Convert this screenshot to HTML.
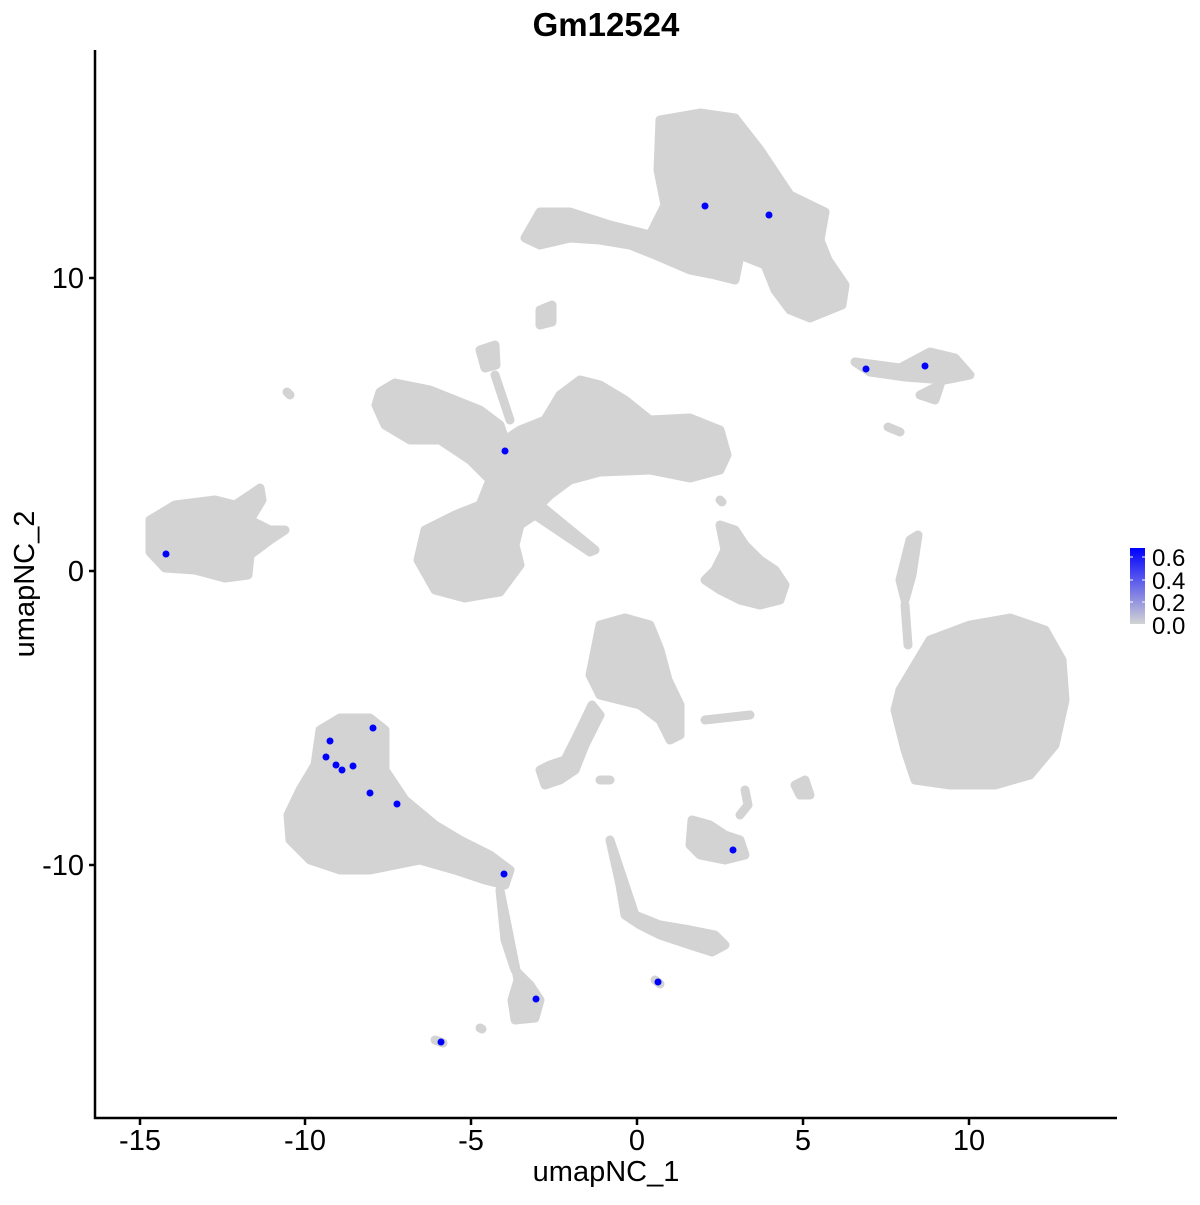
<!DOCTYPE html>
<html><head><meta charset="utf-8"><style>
html,body{margin:0;padding:0;background:#fff;}
text{font-family:"Liberation Sans",sans-serif;}
</style></head><body>
<svg width="1200" height="1200" viewBox="0 0 1200 1200" xmlns="http://www.w3.org/2000/svg">
<defs><linearGradient id="g" x1="0" y1="1" x2="0" y2="0"><stop offset="0" stop-color="#d3d3d3"/><stop offset="1" stop-color="#0000ff"/></linearGradient></defs>
<g fill="#d3d3d3" stroke="#d3d3d3" stroke-width="9" stroke-linejoin="round" stroke-linecap="round">
<path d="M660 120 L700 113 L735 118 L760 150 L790 195 L825 212 L820 240 L828 260 L845 285 L842 305 L810 318 L790 310 L775 290 L765 265 L740 255 L735 280 L715 275 L690 270 L655 255 L630 245 L600 240 L570 238 L540 245 L525 238 L540 212 L570 212 L610 225 L650 235 L665 205 L658 170 Z"/>
<path d="M700 220 L760 215 L770 250 L700 255 Z"/>
<path d="M540 310 L552 305 L552 322 L540 325 Z"/>
<path d="M855 362 L900 368 L930 352 L955 358 L970 375 L945 380 L905 377 L870 372 Z"/>
<path d="M920 395 L940 385 L935 400 Z"/>
<path d="M888 427 L900 432" fill="none"/>
<path d="M380 392 L395 383 L430 390 L455 400 L480 410 L500 425 L505 440 L520 430 L545 420 L560 395 L580 380 L600 385 L625 400 L650 420 L690 418 L720 430 L727 455 L720 470 L690 478 L650 470 L600 472 L570 480 L550 495 L540 505 L595 550 L590 552 L535 515 L520 525 L515 545 L520 565 L500 592 L465 598 L435 590 L418 560 L425 530 L455 515 L480 505 L490 480 L470 460 L440 440 L410 440 L385 425 L376 405 Z"/>
<path d="M480 350 L495 345 L496 365 L485 368 Z"/>
<path d="M495 375 L510 420" fill="none"/>
<path d="M287 392 L290 395" fill="none"/>
<path d="M150 520 L175 505 L215 500 L235 505 L250 495 L260 488 L262 500 L250 520 L270 530 L285 530 L270 540 L250 555 L248 575 L225 578 L195 570 L165 568 L150 552 Z"/>
<path d="M720 525 L735 530 L745 545 L760 560 L775 570 L785 585 L780 600 L760 605 L740 600 L720 590 L705 580 L715 570 L725 550 Z"/>
<path d="M720 500 L722 502" fill="none"/>
<path d="M900 690 L930 640 L970 625 L1010 618 L1045 630 L1062 660 L1065 700 L1055 745 L1030 775 L995 785 L950 785 L915 780 L905 750 L895 710 Z"/>
<path d="M910 540 L918 535 L912 575 L905 600 L900 580 Z"/>
<path d="M905 605 L908 645" fill="none"/>
<path d="M300 790 L315 765 L320 730 L340 718 L370 718 L385 730 L385 770 L405 800 L435 825 L460 840 L490 855 L510 870 L505 885 L485 880 L455 870 L420 860 L395 865 L370 870 L340 870 L310 860 L290 840 L288 815 Z"/>
<path d="M500 890 L505 940 L515 970 L530 985 L540 1000 L535 1018 L515 1020 L512 1000 L518 980 Z"/>
<path d="M435 1040 L443 1043" fill="none"/>
<path d="M480 1028 L482 1029" fill="none"/>
<path d="M595 650 L600 625 L625 618 L650 625 L660 650 L668 680 L680 705 L680 735 L670 740 L660 720 L640 705 L620 700 L600 695 L590 675 Z"/>
<path d="M592 705 L580 730 L565 760 L550 765 L540 770 L545 785 L560 780 L575 770 L585 745 L600 715 Z"/>
<path d="M705 720 L750 715" fill="none"/>
<path d="M600 780 L610 780" fill="none"/>
<path d="M610 840 L620 870 L630 900 L635 915 L660 925 L690 930 L715 935 L725 945 L712 952 L690 945 L660 935 L640 925 L625 915 L620 885 Z"/>
<path d="M655 980 L660 984" fill="none"/>
<path d="M692 820 L710 825 L725 835 L740 840 L745 855 L725 860 L700 855 L690 845 Z"/>
<path d="M745 790 L748 805 L740 815" fill="none"/>
<path d="M795 785 L805 780 L810 795 L800 795 Z"/>
</g>
<g fill="#0000ff">
<circle cx="705" cy="206" r="3.5"/><circle cx="769" cy="215" r="3.5"/>
<circle cx="866" cy="369" r="3.5"/><circle cx="925" cy="366" r="3.5"/>
<circle cx="505" cy="451" r="3.5"/><circle cx="166" cy="554" r="3.5"/>
<circle cx="373" cy="728" r="3.5"/><circle cx="330" cy="741" r="3.5"/><circle cx="326" cy="757" r="3.5"/>
<circle cx="336" cy="765" r="3.5"/><circle cx="342" cy="770" r="3.5"/><circle cx="353" cy="766" r="3.5"/>
<circle cx="370" cy="793" r="3.5"/><circle cx="397" cy="804" r="3.5"/>
<circle cx="733" cy="850" r="3.5"/><circle cx="504" cy="874" r="3.5"/>
<circle cx="536" cy="999" r="3.5"/><circle cx="658" cy="982" r="3.5"/><circle cx="441" cy="1042" r="3.5"/>
</g>
<g stroke="#000" stroke-width="2.5" fill="none">
<path d="M95 50 V1118 H1117"/>
<path d="M89 278 H95 M89 571 H95 M89 865 H95"/>
<path d="M140 1118 V1125 M305 1118 V1125 M471 1118 V1125 M637 1118 V1125 M803 1118 V1125 M969 1118 V1125"/>
</g>
<g font-size="29" fill="#000">
<g text-anchor="end"><text x="84" y="288">10</text><text x="84" y="581">0</text><text x="84" y="875">-10</text></g>
<g text-anchor="middle"><text x="140" y="1150">-15</text><text x="305" y="1150">-10</text><text x="471" y="1150">-5</text><text x="637" y="1150">0</text><text x="803" y="1150">5</text><text x="969" y="1150">10</text>
<text x="606" y="1181">umapNC_1</text>
<text x="606" y="36" font-weight="bold" font-size="33">Gm12524</text>
<text transform="translate(34,584) rotate(-90)">umapNC_2</text></g>
</g>
<rect x="1130" y="548" width="15" height="76" fill="url(#g)"/>
<g stroke="#fff" stroke-width="1"><path d="M1130 557H1133M1142 557H1145M1130 580H1133M1142 580H1145M1130 602H1133M1142 602H1145"/></g>
<g font-size="24" fill="#000"><text x="1152" y="566">0.6</text><text x="1152" y="589">0.4</text><text x="1152" y="611">0.2</text><text x="1152" y="634">0.0</text></g>
</svg>
</body></html>
